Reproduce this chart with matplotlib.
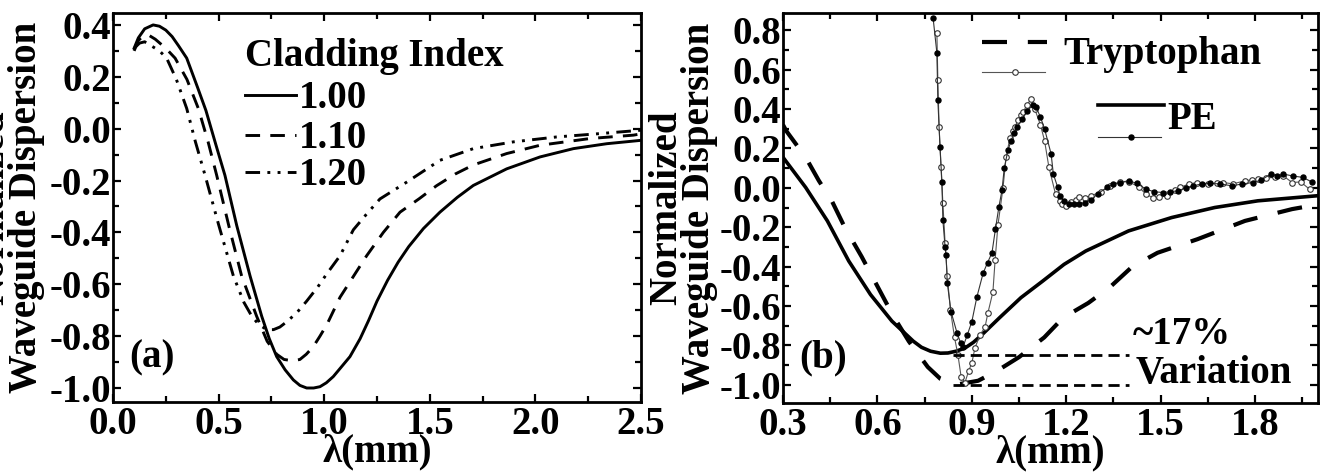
import matplotlib
matplotlib.use("Agg")
import matplotlib.pyplot as plt
from matplotlib.ticker import MultipleLocator, FormatStrFormatter

plt.rcParams['font.family'] = ['Liberation Serif', 'DejaVu Serif']
plt.rcParams['font.weight'] = 'bold'
plt.rcParams['axes.unicode_minus'] = False

# ---------------- Panel (a) data ----------------
lam_100 = [0.10, 0.12, 0.15, 0.19, 0.22, 0.25, 0.28, 0.31, 0.349, 0.40, 0.44, 0.49, 0.53, 0.586,
           0.649, 0.704, 0.74, 0.775, 0.815, 0.854, 0.885, 0.917, 0.95, 0.98, 1.01, 1.043, 1.08,
           1.122, 1.17, 1.21, 1.25, 1.30, 1.35, 1.40, 1.47, 1.548, 1.63, 1.706, 1.864, 2.022,
           2.18, 2.338, 2.5]
d_100 = [0.31, 0.35, 0.385, 0.40, 0.395, 0.38, 0.355, 0.32, 0.272, 0.16, 0.07, -0.07, -0.18,
         -0.374, -0.568, -0.723, -0.81, -0.879, -0.93, -0.969, -0.99, -1.0, -1.0, -0.995, -0.98,
         -0.956, -0.92, -0.879, -0.81, -0.74, -0.665, -0.585, -0.515, -0.455, -0.385, -0.322,
         -0.265, -0.219, -0.155, -0.109, -0.077, -0.058, -0.045]

lam_110 = [0.10, 0.12, 0.146, 0.17, 0.20, 0.25, 0.294, 0.35, 0.404, 0.45, 0.491, 0.55, 0.609,
           0.68, 0.73, 0.775, 0.81, 0.85, 0.885, 0.915, 0.948, 0.98, 1.013, 1.075, 1.138, 1.201,
           1.28, 1.359, 1.45, 1.532, 1.62, 1.706, 1.864, 2.022, 2.259, 2.464, 2.5]
d_110 = [0.30, 0.34, 0.36, 0.36, 0.345, 0.31, 0.272, 0.19, 0.078, -0.05, -0.18, -0.38, -0.568,
         -0.723, -0.82, -0.87, -0.89, -0.895, -0.89, -0.87, -0.841, -0.80, -0.755, -0.65, -0.57,
         -0.49, -0.40, -0.322, -0.27, -0.22, -0.175, -0.14, -0.096, -0.064, -0.038, -0.025,
         -0.02]

lam_120 = [0.10, 0.126, 0.15, 0.18, 0.22, 0.254, 0.30, 0.349, 0.39, 0.436, 0.50, 0.57, 0.62,
           0.657, 0.69, 0.728, 0.76, 0.79, 0.822, 0.87, 0.917, 0.97, 1.012, 1.075, 1.138, 1.20,
           1.264, 1.391, 1.548, 1.706, 1.895, 2.1, 2.306, 2.5]
d_120 = [0.31, 0.33, 0.335, 0.32, 0.30, 0.272, 0.19, 0.078, -0.05, -0.18, -0.37, -0.568, -0.67,
         -0.723, -0.755, -0.775, -0.775, -0.765, -0.745, -0.71, -0.665, -0.61, -0.56, -0.49,
         -0.39, -0.33, -0.271, -0.206, -0.122, -0.077, -0.051, -0.032, -0.019, -0.006]

# ---------------- Panel (b) data ----------------
lam_pe_th = [0.30, 0.372, 0.441, 0.509, 0.578, 0.646, 0.714, 0.74, 0.769, 0.80, 0.824, 0.85,
             0.879, 0.905, 0.933, 0.988, 1.056, 1.125, 1.193, 1.262, 1.398, 1.535, 1.672, 1.809,
             2.0]
d_pe_th = [0.155, 0.002, -0.168, -0.372, -0.542, -0.677, -0.779, -0.81, -0.830, -0.84, -0.839,
           -0.83, -0.813, -0.785, -0.745, -0.660, -0.558, -0.474, -0.389, -0.321, -0.219, -0.151,
           -0.100, -0.066, -0.04]

lam_tr_th = [0.30, 0.31, 0.372, 0.414, 0.455, 0.496, 0.55, 0.60, 0.65, 0.70, 0.76, 0.80, 0.85,
             0.92, 0.98, 1.05, 1.13, 1.19, 1.27, 1.34, 1.41, 1.49, 1.617, 1.768, 1.918, 2.0]
d_tr_th = [0.32, 0.29, 0.155, 0.036, -0.066, -0.20, -0.35, -0.50, -0.65, -0.78, -0.91, -0.97,
           -1.0, -0.98, -0.93, -0.86, -0.76, -0.66, -0.585, -0.503, -0.40, -0.33, -0.261,
           -0.168, -0.108, -0.085]

lam_tr_exp = [0.789, 0.792, 0.796, 0.802, 0.808, 0.815, 0.822, 0.832, 0.845, 0.856, 0.866, 0.878,
              0.89, 0.90, 0.91, 0.926, 0.942, 0.951, 0.967, 0.974, 0.983, 0.999, 1.009, 1.021,
              1.03, 1.037, 1.047, 1.055, 1.063, 1.075, 1.088, 1.10, 1.118, 1.131, 1.145, 1.166,
              1.179, 1.186, 1.20, 1.215, 1.23, 1.24, 1.26, 1.28, 1.31, 1.34, 1.37, 1.40, 1.43,
              1.453, 1.475, 1.494, 1.521, 1.545, 1.562, 1.59, 1.617, 1.65, 1.68, 1.699, 1.73,
              1.768, 1.79, 1.809, 1.835, 1.863, 1.89, 1.918, 1.945, 1.973]
d_tr_exp = [0.786, 0.548, 0.309, 0.106, -0.077, -0.28, -0.45, -0.62, -0.76, -0.85, -0.96, -0.99,
            -0.93, -0.89, -0.813, -0.748, -0.707, -0.636, -0.529, -0.367, -0.189, -0.001, 0.157,
            0.253, 0.29, 0.309, 0.345, 0.37, 0.385, 0.42, 0.451, 0.40, 0.32, 0.24, 0.104, -0.032,
            -0.066, -0.083, -0.09, -0.07, -0.06, -0.049, -0.05, -0.04, -0.02, 0.01, 0.03, 0.03,
            0.005, -0.032, -0.05, -0.049, -0.04, -0.01, 0.002, 0.02, 0.027, 0.02, 0.025, 0.027,
            0.02, 0.036, 0.04, 0.044, 0.05, 0.053, 0.06, 0.027, 0.03, -0.007]

lam_pe_exp = [0.777, 0.789, 0.792, 0.799, 0.805, 0.808, 0.815, 0.818, 0.822, 0.834, 0.853, 0.865,
              0.872, 0.885, 0.90, 0.916, 0.936, 0.95, 0.964, 0.975, 0.986, 0.996, 1.003, 1.015,
              1.025, 1.035, 1.045, 1.06, 1.075, 1.094, 1.104, 1.118, 1.131, 1.152, 1.159, 1.173,
              1.18, 1.193, 1.21, 1.225, 1.24, 1.26, 1.28, 1.30, 1.33, 1.35, 1.371, 1.398, 1.426,
              1.453, 1.48, 1.508, 1.53, 1.556, 1.58, 1.603, 1.63, 1.658, 1.69, 1.726, 1.76, 1.795,
              1.82, 1.85, 1.87, 1.89, 1.92, 1.952, 1.98]
d_pe_exp = [0.862, 0.685, 0.446, 0.207, 0.03, -0.163, -0.30, -0.34, -0.483, -0.63, -0.737, -0.79,
            -0.808, -0.75, -0.68, -0.555, -0.433, -0.38, -0.33, -0.21, -0.097, -0.011, 0.10, 0.192,
            0.24, 0.28, 0.31, 0.35, 0.39, 0.42, 0.409, 0.36, 0.30, 0.172, 0.07, 0.002, -0.04,
            -0.066, -0.08, -0.08, -0.08, -0.075, -0.06, -0.03, 0.002, 0.02, 0.027, 0.036, 0.022,
            -0.007, -0.02, -0.024, -0.02, -0.015, 0.0, 0.01, 0.02, 0.022, 0.02, 0.01, 0.02, 0.027,
            0.04, 0.07, 0.06, 0.07, 0.06, 0.053, 0.03]

# variation reference lines
var_lam = [0.84, 1.40]
var_hi = [-0.85, -0.85]
var_lo = [-1.0, -1.0]

FS = 28

fig = plt.figure(figsize=(13.27, 4.74), dpi=100)
axa = fig.add_axes([113/1327, 1-402/474, 528/1327, 389/474])
axb = fig.add_axes([783/1327, 1-403/474, 535/1327, 390/474])

def style(ax):
    for s in ax.spines.values():
        s.set_linewidth(2.0)
    ax.tick_params(which='both', direction='in', top=True, right=True, width=1.6,
                   labelsize=FS)
    ax.tick_params(which='major', length=6)
    ax.tick_params(which='minor', length=4)
    ax.tick_params(axis='y', pad=1.5)
    ax.tick_params(axis='x', pad=3)
    for lab in ax.get_xticklabels() + ax.get_yticklabels():
        lab.set_fontweight('bold')

# ---------- Panel (a) ----------
lw = 2.1
axa.plot(lam_100, d_100, color='black', lw=lw, ls='-')
axa.plot(lam_110, d_110, color='black', lw=lw, ls=(0, (5, 3.5)))
axa.plot(lam_120, d_120, color='black', lw=lw, ls=(0, (5, 2.5, 1, 2.5, 1, 2.5)))
axa.set_xlim(0, 2.5)
axa.set_ylim(-1.054, 0.446)
axa.xaxis.set_major_locator(MultipleLocator(0.5))
axa.xaxis.set_minor_locator(MultipleLocator(0.25))
axa.yaxis.set_major_locator(MultipleLocator(0.2))
axa.yaxis.set_minor_locator(MultipleLocator(0.1))
axa.xaxis.set_major_formatter(FormatStrFormatter('%.1f'))
axa.yaxis.set_major_formatter(FormatStrFormatter('%.1f'))
style(axa)
axa.set_xlabel('λ(mm)', fontsize=FS, fontweight='bold')
axa.xaxis.set_label_coords(0.5, -0.08)
axa.set_ylabel('Normalized\nWaveguide Dispersion', fontsize=FS, fontweight='bold',
               linespacing=0.85)
axa.yaxis.set_label_coords(-0.129, 0.5)
axa.text(0.03, 0.09, '(a)', transform=axa.transAxes, fontsize=FS, fontweight='bold',
         ha='left', va='baseline')

# legend (a)
axa.text(0.25, 0.863, 'Cladding Index', transform=axa.transAxes, fontsize=FS,
         fontweight='bold', ha='left', va='baseline')
leg_y = [0.79, 0.687, 0.592]
leg_lab = ['1.00', '1.10', '1.20']
leg_ls = ['-', (0, (5, 3.5)), (0, (5, 2.5, 1, 2.5, 1, 2.5))]
for yy, lab, ls in zip(leg_y, leg_lab, leg_ls):
    axa.plot([0.25, 0.346], [yy, yy], transform=axa.transAxes, color='black', lw=lw, ls=ls)
    axa.text(0.352, yy - 0.033, lab, transform=axa.transAxes, fontsize=FS, fontweight='bold',
             ha='left', va='baseline')

# ---------- Panel (b) ----------
axb.plot(lam_pe_th, d_pe_th, color='black', lw=2.6, ls='-')
axb.plot(lam_tr_th, d_tr_th, color='black', lw=3.0, ls=(0, (6, 5)))
axb.plot(lam_tr_exp, d_tr_exp, color='#555555', lw=0.8, marker='o', ms=4,
         mfc='white', mec='#333333', mew=0.8)
axb.plot(lam_pe_exp, d_pe_exp, color='#333333', lw=0.8, marker='o', ms=3.6,
         mfc='black', mec='black')
axb.plot(var_lam, var_hi, color='black', lw=2.0, ls=(0, (4, 2.2)))
axb.plot(var_lam, var_lo, color='black', lw=2.0, ls=(0, (4, 2.2)))
axb.set_xlim(0.3, 2.0)
axb.set_ylim(-1.093, 0.888)
axb.xaxis.set_major_locator(MultipleLocator(0.3))
axb.xaxis.set_minor_locator(MultipleLocator(0.15))
axb.yaxis.set_major_locator(MultipleLocator(0.2))
axb.yaxis.set_minor_locator(MultipleLocator(0.1))
axb.xaxis.set_major_formatter(FormatStrFormatter('%.1f'))
axb.yaxis.set_major_formatter(FormatStrFormatter('%.1f'))
style(axb)
axb.set_xlabel('λ(mm)', fontsize=FS, fontweight='bold')
axb.xaxis.set_label_coords(0.5, -0.08)
axb.set_ylabel('Normalized\nWaveguide Dispersion', fontsize=FS, fontweight='bold',
               linespacing=0.85)
axb.yaxis.set_label_coords(-0.121, 0.5)
axb.text(0.03, 0.09, '(b)', transform=axb.transAxes, fontsize=FS, fontweight='bold',
         ha='left', va='baseline')
axb.text(0.654, 0.15, '~17%', transform=axb.transAxes, fontsize=FS, fontweight='bold',
         ha='left', va='baseline')
axb.text(0.66, 0.052, 'Variation', transform=axb.transAxes, fontsize=FS, fontweight='bold',
         ha='left', va='baseline')

# legend (b)
axb.plot([0.372, 0.493], [0.925, 0.925], transform=axb.transAxes, color='black', lw=3.0,
         ls=(0, (6, 5)))
axb.plot([0.372, 0.49], [0.849, 0.849], transform=axb.transAxes, color='#555555', lw=0.8)
axb.plot([0.433], [0.849], transform=axb.transAxes, marker='o', ms=4, mfc='white',
         mec='#333333', mew=0.8)
axb.text(0.525, 0.870, 'Tryptophan', transform=axb.transAxes, fontsize=FS, fontweight='bold',
         ha='left', va='baseline')
axb.plot([0.588, 0.712], [0.763, 0.763], transform=axb.transAxes, color='black', lw=2.6)
axb.plot([0.588, 0.706], [0.682, 0.682], transform=axb.transAxes, color='#333333', lw=0.8)
axb.plot([0.65], [0.682], transform=axb.transAxes, marker='o', ms=3.6, mfc='black',
         mec='black')
axb.text(0.718, 0.703, 'PE', transform=axb.transAxes, fontsize=FS, fontweight='bold',
         ha='left', va='baseline')

fig.savefig('out.png', dpi=100)
